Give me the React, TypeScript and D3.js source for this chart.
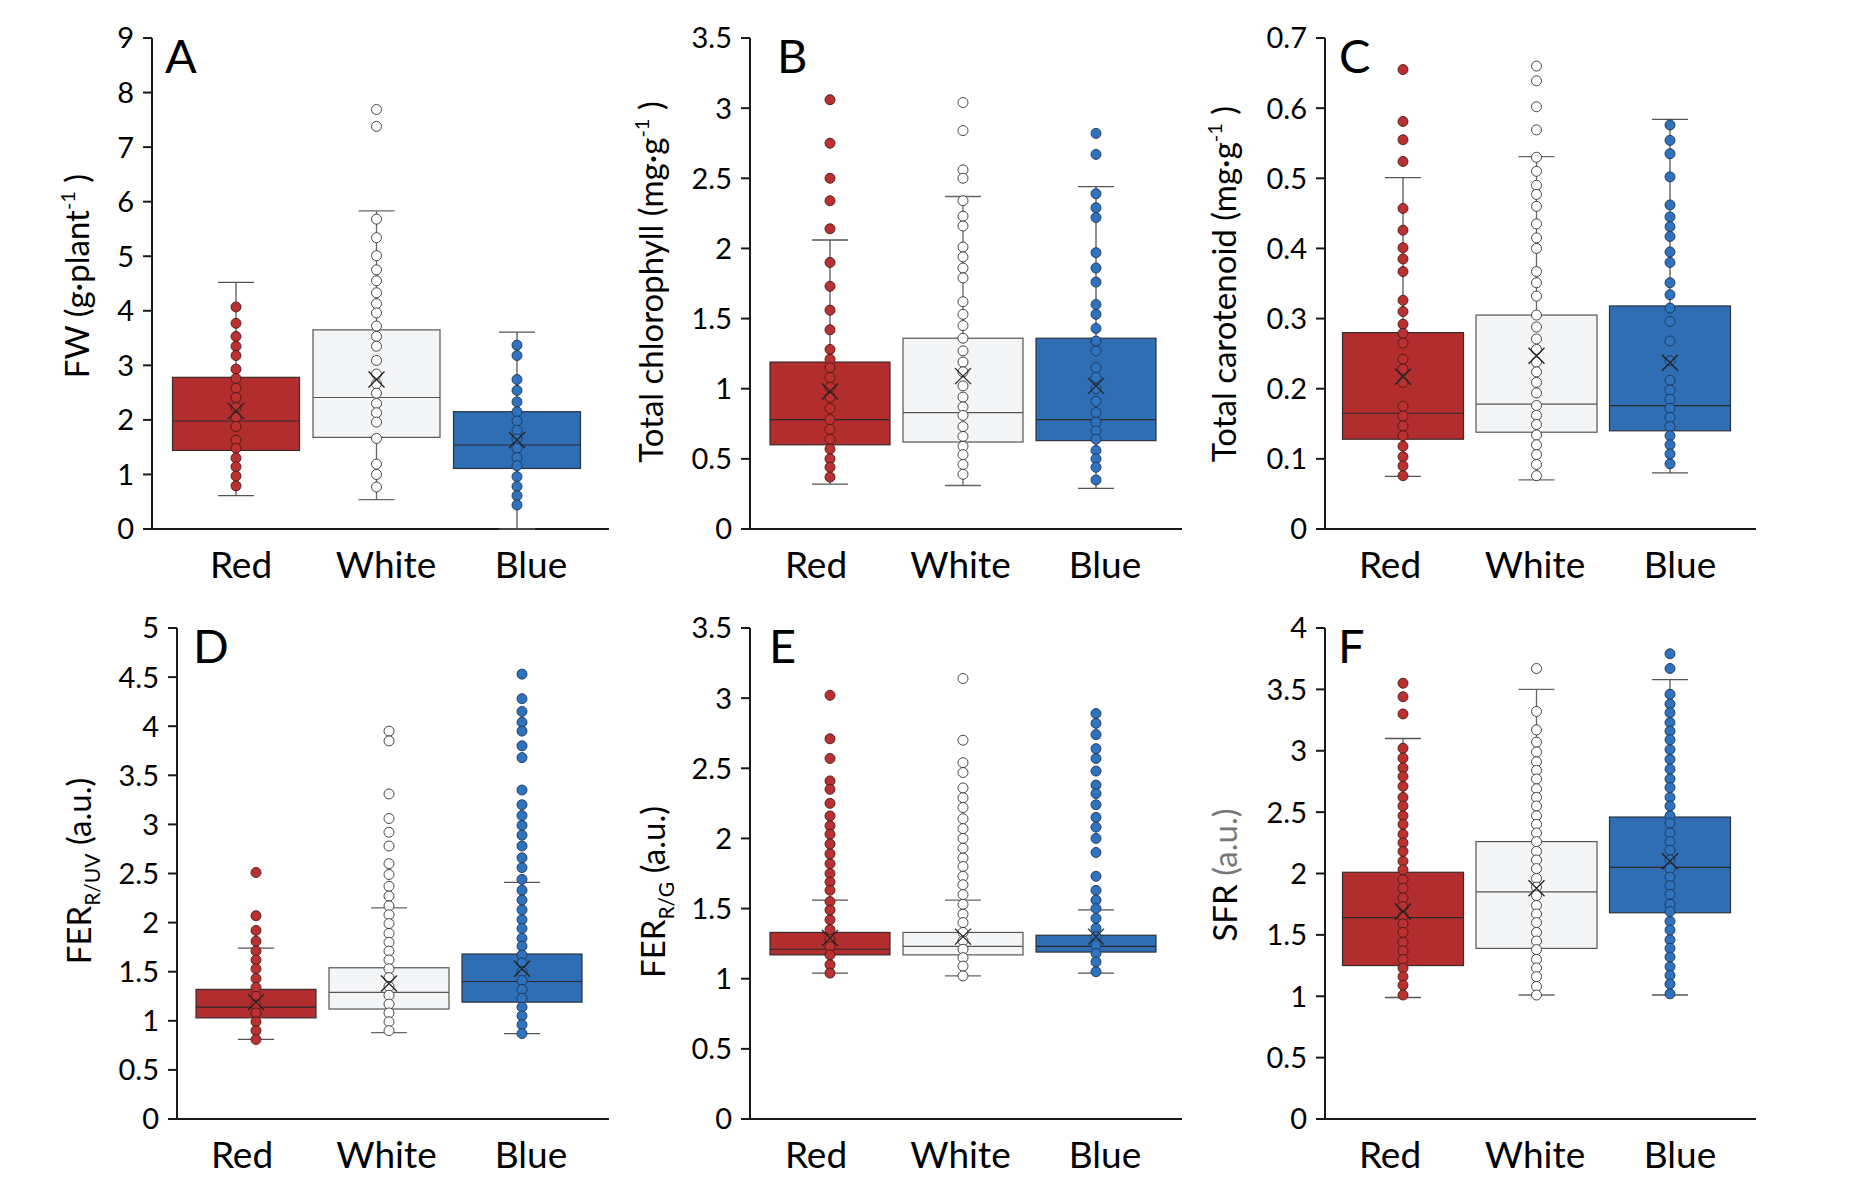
import React from 'react';
import * as d3 from 'd3';

// categories shared by every panel
const categories = ['Red', 'White', 'Blue'];

// box stats per category: [whiskerLow, q1, median, q3, whiskerHigh, mean]
const fwStats = [
  [0.61, 1.44, 1.98, 2.78, 4.52, 2.16],
  [0.54, 1.68, 2.41, 3.65, 5.83, 2.74],
  [0.0, 1.11, 1.54, 2.15, 3.61, 1.63],
];
const fwPoints = [
  [4.07, 3.77, 3.53, 3.35, 3.18, 2.93, 2.76, 2.58, 2.41, 2.23, 2.05, 1.88, 1.63, 1.48, 1.3, 1.14, 0.97, 0.79],
  [7.69, 7.38, 5.68, 5.34, 5.01, 4.75, 4.55, 4.33, 4.13, 3.96, 3.72, 3.53, 3.35, 3.09, 2.84, 2.66, 2.49, 2.3, 2.13, 1.96, 1.66, 1.19, 1.0, 0.77],
  [3.37, 3.18, 2.74, 2.54, 2.33, 2.15, 1.98, 1.81, 1.65, 1.48, 1.31, 1.16, 0.96, 0.78, 0.61, 0.44],
];

const chlStats = [
  [0.32, 0.6, 0.78, 1.19, 2.06, 0.98],
  [0.31, 0.62, 0.83, 1.36, 2.37, 1.09],
  [0.29, 0.63, 0.78, 1.36, 2.44, 1.02],
];
const chlPoints = [
  [3.06, 2.75, 2.5, 2.34, 2.14, 1.9, 1.73, 1.56, 1.42, 1.28, 1.21, 1.15, 1.08, 1.01, 0.94, 0.86, 0.78, 0.71, 0.64, 0.57, 0.5, 0.44, 0.37],
  [3.04, 2.84, 2.56, 2.5, 2.34, 2.23, 2.16, 2.01, 1.94, 1.86, 1.79, 1.62, 1.53, 1.45, 1.36, 1.27, 1.19, 1.12, 1.02, 0.94, 0.87, 0.81, 0.73, 0.66, 0.59, 0.53, 0.46, 0.39],
  [2.82, 2.67, 2.39, 2.29, 2.22, 1.97, 1.86, 1.76, 1.6, 1.53, 1.43, 1.34, 1.27, 1.15, 1.08, 1.0, 0.91, 0.83, 0.76, 0.7, 0.64, 0.56, 0.5, 0.44, 0.35],
];

const carStats = [
  [0.075, 0.128, 0.165, 0.28, 0.501, 0.217],
  [0.07, 0.138, 0.178, 0.305, 0.531, 0.247],
  [0.08, 0.14, 0.176, 0.318, 0.584, 0.237],
];
const carPoints = [
  [0.655, 0.581, 0.555, 0.524, 0.457, 0.426, 0.401, 0.385, 0.367, 0.326, 0.31, 0.292, 0.279, 0.265, 0.242, 0.228, 0.209, 0.175, 0.161, 0.147, 0.133, 0.118, 0.103, 0.09, 0.076],
  [0.66, 0.639, 0.602, 0.569, 0.53, 0.51, 0.49, 0.477, 0.46, 0.435, 0.415, 0.4, 0.367, 0.351, 0.332, 0.305, 0.288, 0.271, 0.256, 0.238, 0.224, 0.209, 0.194, 0.176, 0.162, 0.149, 0.134, 0.12, 0.106, 0.092, 0.076],
  [0.576, 0.554, 0.535, 0.502, 0.462, 0.445, 0.431, 0.417, 0.395, 0.38, 0.351, 0.334, 0.315, 0.296, 0.268, 0.24, 0.212, 0.198, 0.185, 0.172, 0.159, 0.146, 0.133, 0.12, 0.107, 0.093],
];

const ferUvStats = [
  [0.81, 1.03, 1.14, 1.32, 1.74, 1.19],
  [0.88, 1.12, 1.29, 1.54, 2.15, 1.38],
  [0.87, 1.19, 1.4, 1.68, 2.41, 1.53],
];
const ferUvPoints = [
  [2.51, 2.07, 1.92, 1.81, 1.71, 1.62, 1.53, 1.43, 1.34, 1.25, 1.16, 1.08, 0.99, 0.9, 0.81],
  [3.95, 3.85, 3.31, 3.06, 2.92, 2.78, 2.6, 2.49, 2.37, 2.27, 2.17, 2.08, 1.99, 1.89, 1.8, 1.71, 1.62, 1.53, 1.44, 1.35, 1.26, 1.17, 1.08, 0.99, 0.9],
  [4.53, 4.28, 4.15, 4.04, 3.95, 3.8, 3.68, 3.35, 3.2, 3.09, 2.99, 2.89, 2.78, 2.66, 2.56, 2.44, 2.33, 2.23, 2.13, 2.03, 1.94, 1.84, 1.76, 1.67, 1.59, 1.5, 1.41, 1.32, 1.23, 1.14, 1.05, 0.96, 0.87],
];

const ferGStats = [
  [1.04, 1.17, 1.21, 1.33, 1.56, 1.29],
  [1.02, 1.17, 1.23, 1.33, 1.56, 1.3],
  [1.04, 1.19, 1.23, 1.31, 1.49, 1.3],
];
const ferGPoints = [
  [3.02, 2.71, 2.57, 2.41, 2.35, 2.25, 2.16, 2.09, 2.03, 1.96, 1.89, 1.82, 1.75, 1.69, 1.63, 1.55, 1.49, 1.42, 1.35, 1.28, 1.23, 1.17, 1.1, 1.04],
  [3.14, 2.7, 2.54, 2.47, 2.36, 2.29, 2.22, 2.14, 2.07, 2.0, 1.93, 1.86, 1.8, 1.73, 1.67, 1.6, 1.53, 1.46, 1.4, 1.33, 1.27, 1.21, 1.15, 1.09, 1.02],
  [2.89, 2.82, 2.74, 2.64, 2.57, 2.48, 2.38, 2.32, 2.24, 2.15, 2.08, 2.0, 1.9, 1.73, 1.63, 1.56, 1.5, 1.43, 1.36, 1.3, 1.24, 1.18, 1.12, 1.05],
];

const sfrStats = [
  [0.99, 1.25, 1.64, 2.01, 3.1, 1.69],
  [1.01, 1.39, 1.85, 2.26, 3.5, 1.88],
  [1.01, 1.68, 2.05, 2.46, 3.58, 2.1],
];
const sfrPoints = [
  [3.55, 3.44, 3.3, 3.02, 2.94, 2.86, 2.79, 2.71, 2.62, 2.55, 2.47, 2.4, 2.32, 2.25, 2.18, 2.1, 2.03, 1.95, 1.88, 1.8, 1.73, 1.65, 1.59, 1.52, 1.44, 1.37, 1.3, 1.23, 1.16, 1.09, 1.01],
  [3.67, 3.32, 3.17, 3.07, 2.99, 2.91, 2.84, 2.77, 2.69, 2.62, 2.55, 2.47, 2.4, 2.33, 2.26, 2.18, 2.11, 2.04, 1.96, 1.89, 1.82, 1.74, 1.67, 1.6, 1.52, 1.45, 1.38, 1.3, 1.23, 1.16, 1.08, 1.01],
  [3.79, 3.67, 3.46, 3.38, 3.31, 3.23, 3.16, 3.09, 3.01, 2.93, 2.85, 2.77, 2.7, 2.62, 2.55, 2.47, 2.41, 2.33, 2.26, 2.19, 2.11, 2.04, 1.97, 1.9, 1.83, 1.75, 1.69, 1.61, 1.54, 1.46, 1.39, 1.32, 1.24, 1.17, 1.1, 1.02],
];

// tick values for each y axis
const fwTicks = [0, 1, 2, 3, 4, 5, 6, 7, 8, 9];
const chlTicks = [0, 0.5, 1, 1.5, 2, 2.5, 3, 3.5];
const carTicks = [0, 0.1, 0.2, 0.3, 0.4, 0.5, 0.6, 0.7];
const ferUvTicks = [0, 0.5, 1, 1.5, 2, 2.5, 3, 3.5, 4, 4.5, 5];
const ferGTicks = [0, 0.5, 1, 1.5, 2, 2.5, 3, 3.5];
const sfrTicks = [0, 0.5, 1, 1.5, 2, 2.5, 3, 3.5, 4];

const FONT = 'Lato, "Open Sans", sans-serif';

const boxFill = { Red: '#b22d2d', White: '#f4f5f7', Blue: '#2f6db4' };
const boxStroke = { Red: '#3a2a2a', White: '#555', Blue: '#2a3340' };
const dotFill = { Red: '#bb3030', White: '#ffffff', Blue: '#2f72bd' };
const dotStroke = { Red: '#4a1a1a', White: '#333', Blue: '#1d3556' };

type Title = { main: string; sup?: string; sub?: string; tail: string; tailColor?: string };

const panels = [
  { letter: 'A', stats: fwStats, points: fwPoints, ticks: fwTicks, max: 9,
    x0: 152, x1: 609, row: 0, centers: [236, 517], boxW: 127, labels: [241, 531], letterX: 165, titleX: 89, titleY: 276,
    title: { main: 'FW (g·plant', sup: '-1', tail: ' )' } as Title },
  { letter: 'B', stats: chlStats, points: chlPoints, ticks: chlTicks, max: 3.5,
    x0: 750, x1: 1182, row: 0, centers: [830, 1096], boxW: 120, labels: [816, 1105], letterX: 777, titleX: 663, titleY: 282,
    title: { main: 'Total chlorophyll (mg·g', sup: '-1', tail: ' )' } as Title },
  { letter: 'C', stats: carStats, points: carPoints, ticks: carTicks, max: 0.7,
    x0: 1325, x1: 1756, row: 0, centers: [1403, 1670], boxW: 121, labels: [1390, 1680], letterX: 1339, titleX: 1236, titleY: 284,
    title: { main: 'Total carotenoid (mg·g', sup: '-1', tail: ' )' } as Title },
  { letter: 'D', stats: ferUvStats, points: ferUvPoints, ticks: ferUvTicks, max: 5,
    x0: 177, x1: 609, row: 1, centers: [256, 522], boxW: 120, labels: [242, 531], letterX: 193, titleX: 91, titleY: 871,
    title: { main: 'FER', sub: 'R/UV', tail: ' (a.u.)' } as Title },
  { letter: 'E', stats: ferGStats, points: ferGPoints, ticks: ferGTicks, max: 3.5,
    x0: 750, x1: 1182, row: 1, centers: [830, 1096], boxW: 120, labels: [816, 1105], letterX: 769, titleX: 665, titleY: 892,
    title: { main: 'FER', sub: 'R/G', tail: ' (a.u.)' } as Title },
  { letter: 'F', stats: sfrStats, points: sfrPoints, ticks: sfrTicks, max: 4,
    x0: 1325, x1: 1756, row: 1, centers: [1403, 1670], boxW: 121, labels: [1390, 1680], letterX: 1338, titleX: 1237, titleY: 875,
    title: { main: 'SFR ', tail: ' (a.u.)', tailColor: '#777' } as Title },
];

const rows = [
  { top: 38, bottom: 529 },
  { top: 628, bottom: 1119 },
];

function Panel({ p }: { p: (typeof panels)[number] }) {
  const { top, bottom } = rows[p.row];
  const y = d3.scaleLinear().domain([0, p.max]).range([bottom, top]);
  const x = d3.scalePoint<string>().domain(categories).range(p.centers as [number, number]);
  const xl = d3.scalePoint<string>().domain(categories).range(p.labels as [number, number]);
  const t = p.title;

  return (
    <g fontFamily={FONT}>
      {/* axes */}
      <line x1={p.x0} x2={p.x0} y1={top} y2={bottom} stroke="#1a1a1a" strokeWidth={2} />
      <line x1={p.x0 - 9} x2={p.x1} y1={bottom} y2={bottom} stroke="#1a1a1a" strokeWidth={2} />
      {p.ticks.map((v) => (
        <g key={v}>
          <line x1={p.x0 - 9} x2={p.x0} y1={y(v)} y2={y(v)} stroke="#1a1a1a" strokeWidth={2} />
          <text x={p.x0 - 18} y={y(v)} dy="0.36em" textAnchor="end" fontSize={29} fill="#000">
            {d3.format('~g')(v)}
          </text>
        </g>
      ))}
      {categories.map((c) => (
        <text key={c} x={xl(c)} y={bottom + 49} textAnchor="middle" fontSize={37} fill="#000">{c}</text>
      ))}
      <text x={p.letterX} y={top + 35} fontSize={47} fill="#000">{p.letter}</text>
      <text transform={`translate(${p.titleX},${p.titleY}) rotate(-90)`} textAnchor="middle" fontSize={33} fill="#000">
        {t.main}
        {t.sup && <tspan dy={-14} fontSize={20}>{t.sup}</tspan>}
        {t.sub && <tspan dy={9} fontSize={21}>{t.sub}</tspan>}
        <tspan dy={t.sup ? 14 : t.sub ? -9 : 0} fill={t.tailColor || '#000'}>{t.tail}</tspan>
      </text>

      {/* boxes */}
      {categories.map((c, i) => {
        const [lo, q1, med, q3, hi, mean] = p.stats[i];
        const cx = x(c) as number;
        const hw = p.boxW / 2;
        const ws = c === 'White' ? '#666' : '#555';
        return (
          <g key={c}>
            <line x1={cx} x2={cx} y1={y(lo)} y2={y(q1)} stroke={ws} strokeWidth={1.3} />
            <line x1={cx} x2={cx} y1={y(q3)} y2={y(hi)} stroke={ws} strokeWidth={1.3} />
            <line x1={cx - 18} x2={cx + 18} y1={y(lo)} y2={y(lo)} stroke={ws} strokeWidth={1.3} />
            <line x1={cx - 18} x2={cx + 18} y1={y(hi)} y2={y(hi)} stroke={ws} strokeWidth={1.3} />
            <rect x={cx - hw} y={y(q3)} width={p.boxW} height={y(q1) - y(q3)}
              fill={(boxFill as any)[c]} stroke={(boxStroke as any)[c]} strokeWidth={1.2} />
            <line x1={cx - hw} x2={cx + hw} y1={y(med)} y2={y(med)} stroke={c === 'White' ? '#555' : '#2a2a2a'} strokeWidth={1.2} />
            {p.points[i].map((v, j) => (
              <circle key={j} cx={cx} cy={y(v)} r={5} fill={(dotFill as any)[c]} stroke={(dotStroke as any)[c]} strokeWidth={0.9} />
            ))}
            <path d={`M${cx - 8},${y(mean) - 8}L${cx + 8},${y(mean) + 8}M${cx - 8},${y(mean) + 8}L${cx + 8},${y(mean) - 8}`}
              stroke="#222" strokeWidth={1.3} fill="none" />
          </g>
        );
      })}
    </g>
  );
}

export default function App() {
  return (
    <svg width={1864} height={1204} style={{ position: 'absolute', left: 0, top: 0, background: '#fff' }}>
      <rect width={1864} height={1204} fill="#fff" />
      {panels.map((p) => (
        <Panel key={p.letter} p={p} />
      ))}
    </svg>
  );
}
